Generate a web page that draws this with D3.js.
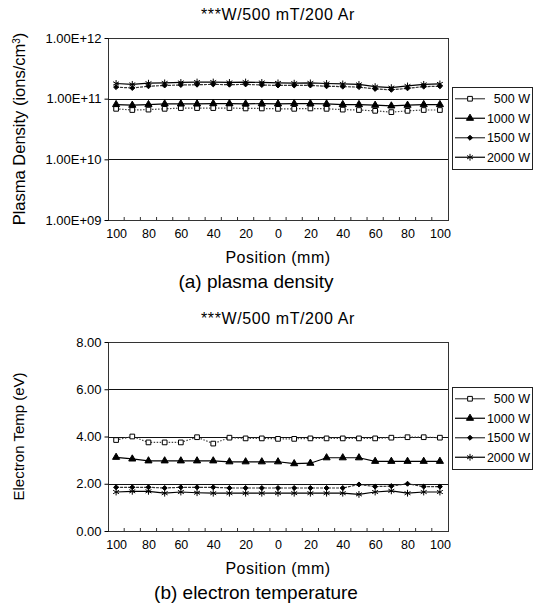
<!DOCTYPE html>
<html>
<head>
<meta charset="utf-8">
<script src="https://cdn.jsdelivr.net/npm/d3@7"></script>
<style>
  body { margin: 0; background: #fff; }
  text { font-family: "Liberation Sans", Arial, sans-serif; fill: #000; }
</style>
</head>
<body>
<svg id="chart" width="535" height="611"></svg>
<script>
// positions along the wafer (mm), 21 points, labels on every other one
const positions = [100, 90, 80, 70, 60, 50, 40, 30, 20, 10, 0, 10, 20, 30, 40, 50, 60, 70, 80, 90, 100];
const seriesNames = ["500 W", "1000 W", "1500 W", "2000 W"];
const chartTitle = "***W/500 mT/200 Ar";

// (a) plasma density, ions/cm3
const density500 = [6.8e10, 6.5e10, 6.6e10, 6.8e10, 7.0e10, 7.0e10, 7.0e10, 7.0e10, 6.9e10, 6.9e10, 6.8e10, 6.8e10, 6.9e10, 6.8e10, 6.6e10, 6.5e10, 6.3e10, 6.0e10, 6.3e10, 6.5e10, 6.5e10];
const density1000 = [8.0e10, 7.8e10, 8.0e10, 8.2e10, 8.2e10, 8.2e10, 8.3e10, 8.3e10, 8.2e10, 8.3e10, 8.2e10, 8.3e10, 8.3e10, 8.2e10, 8.0e10, 8.0e10, 7.8e10, 7.6e10, 7.8e10, 8.0e10, 8.0e10];
const density1500 = [1.55e11, 1.50e11, 1.60e11, 1.65e11, 1.68e11, 1.70e11, 1.72e11, 1.70e11, 1.72e11, 1.68e11, 1.65e11, 1.65e11, 1.65e11, 1.60e11, 1.58e11, 1.55e11, 1.45e11, 1.40e11, 1.48e11, 1.58e11, 1.60e11];
const density2000 = [1.78e11, 1.72e11, 1.80e11, 1.82e11, 1.85e11, 1.88e11, 1.88e11, 1.85e11, 1.88e11, 1.85e11, 1.82e11, 1.80e11, 1.82e11, 1.78e11, 1.75e11, 1.72e11, 1.58e11, 1.52e11, 1.62e11, 1.72e11, 1.75e11];
const densityTicks = [1e9, 1e10, 1e11, 1e12];

// (b) electron temperature, eV
const temp500 = [3.85, 4.00, 3.75, 3.75, 3.75, 3.97, 3.70, 3.95, 3.92, 3.92, 3.90, 3.90, 3.92, 3.92, 3.92, 3.92, 3.92, 3.95, 3.97, 3.97, 3.95];
const temp1000 = [3.12, 3.05, 2.97, 2.97, 2.97, 2.97, 2.97, 2.93, 2.93, 2.93, 2.93, 2.85, 2.87, 3.10, 3.10, 3.10, 2.95, 2.95, 2.95, 2.95, 2.95];
const temp1500 = [1.85, 1.85, 1.85, 1.82, 1.85, 1.85, 1.85, 1.82, 1.82, 1.82, 1.82, 1.82, 1.82, 1.82, 1.82, 1.97, 1.88, 1.90, 2.00, 1.88, 1.88];
const temp2000 = [1.65, 1.68, 1.68, 1.60, 1.65, 1.62, 1.60, 1.60, 1.60, 1.60, 1.60, 1.60, 1.60, 1.60, 1.60, 1.55, 1.65, 1.70, 1.60, 1.65, 1.65];
const tempTicks = [0, 2, 4, 6, 8];

const svg = d3.select("#chart");

// how each series is drawn
const styles = [
  { symbol: d3.symbolSquare, size: 22, fill: "#fff", line: "#444", dash: "1.5,1.5" },
  { symbol: d3.symbolTriangle, size: 22, fill: "#000", line: "#000", dash: null },
  { symbol: d3.symbolDiamond2, size: 16, fill: "#000", line: "#333", dash: "3,1" },
  { symbol: d3.symbolAsterisk, size: 32, fill: "none", line: "#000", dash: null }
];

function sciFormat(d) {
  const parts = d.toExponential(2).split("e");
  const exp = +parts[1];
  return parts[0] + "E" + (exp < 0 ? "-" : "+") + String(Math.abs(exp)).padStart(2, "0");
}

function drawPanel(opt) {
  const g = svg.append("g");
  const left = 108, right = 448;

  const x = d3.scalePoint()
    .domain(d3.range(positions.length))
    .range([left, right])
    .padding(0.5);

  const y = opt.log
    ? d3.scaleLog().domain([opt.ticks[0], opt.ticks[opt.ticks.length - 1]]).range([opt.bottom, opt.top])
    : d3.scaleLinear().domain([opt.ticks[0], opt.ticks[opt.ticks.length - 1]]).range([opt.bottom, opt.top]);

  // gridlines
  g.append("g").selectAll("line")
    .data(opt.ticks.slice(1, -1))
    .enter().append("line")
    .attr("x1", left).attr("x2", right)
    .attr("y1", d => Math.round(y(d)) + 0.5).attr("y2", d => Math.round(y(d)) + 0.5)
    .attr("stroke", "#111").attr("stroke-width", 1.2);

  // plot border
  g.append("rect")
    .attr("x", left + 0.5).attr("y", opt.top + 0.5)
    .attr("width", right - left).attr("height", opt.bottom - opt.top)
    .attr("fill", "none").attr("stroke", "#333").attr("stroke-width", 1);

  // y axis
  const ya = g.append("g")
    .attr("transform", `translate(${left + 0.5},0)`)
    .call(d3.axisLeft(y).tickValues(opt.ticks).tickSize(4).tickFormat(opt.format));
  ya.select(".domain").remove();
  ya.selectAll("text")
    .attr("x", -7)
    .style("font-size", "13px")
    .style("font-family", "'Liberation Sans', Arial, sans-serif");

  // x axis labels, every other category
  const xa = g.append("g")
    .attr("transform", `translate(0,${opt.bottom})`)
    .call(d3.axisBottom(x).tickSize(0).tickFormat(i => i % 2 === 0 ? positions[i] : ""));
  xa.select(".domain").remove();
  xa.selectAll("text")
    .attr("dy", "0.71em")
    .attr("y", 9)
    .style("font-size", "12.5px")
    .style("font-family", "'Liberation Sans', Arial, sans-serif");

  // small inward tick marks between categories
  g.append("g").selectAll("line")
    .data(d3.range(1, positions.length))
    .enter().append("line")
    .attr("x1", i => x(i) - x.step() / 2).attr("x2", i => x(i) - x.step() / 2)
    .attr("y1", opt.bottom).attr("y2", opt.bottom - 3)
    .attr("stroke", "#333");

  // series
  const line = d3.line()
    .x((d, i) => x(i))
    .y(d => y(d));

  opt.series.forEach((vals, s) => {
    const st = styles[s];
    g.append("path")
      .datum(vals)
      .attr("d", line)
      .attr("fill", "none")
      .attr("stroke", st.line)
      .attr("stroke-width", 1.2)
      .attr("stroke-dasharray", st.dash);
  });
  opt.series.forEach((vals, s) => {
    const st = styles[s];
    g.append("g").selectAll("path")
      .data(vals)
      .enter().append("path")
      .attr("transform", (d, i) => `translate(${x(i)},${y(d)})`)
      .attr("d", d3.symbol().type(st.symbol).size(st.size))
      .attr("fill", st.fill)
      .attr("stroke", "#000")
      .attr("stroke-width", 1);
  });

  // title
  g.append("text")
    .attr("x", 278).attr("y", opt.top - 18)
    .attr("text-anchor", "middle")
    .style("font-size", "16px")
    .style("letter-spacing", "0.6px")
    .text(chartTitle);

  // y title
  const yt = g.append("text")
    .attr("transform", `translate(19,${(opt.top + opt.bottom) / 2}) rotate(-90)`)
    .attr("text-anchor", "middle")
    .attr("dy", "0.35em")
    .style("font-size", opt.yTitleSize);
  yt.append("tspan").text(opt.yTitle);
  if (opt.yTitleSup) {
    yt.append("tspan").attr("baseline-shift", "super").style("font-size", "10px").text(opt.yTitleSup);
    yt.append("tspan").text(")");
  }

  // x title and caption
  g.append("text")
    .attr("x", 278).attr("y", opt.bottom + 43)
    .attr("text-anchor", "middle")
    .style("font-size", "16px")
    .style("letter-spacing", "0.5px")
    .text("Position (mm)");
  g.append("text")
    .attr("x", 256).attr("y", opt.bottom + 68)
    .attr("text-anchor", "middle")
    .style("font-size", "19px")
    .text(opt.caption);

  // legend, near the middle of the plot area
  const lh = 19.5;
  const lTop = Math.round(opt.legendTop);
  g.append("rect")
    .attr("x", 452.5).attr("y", lTop + 0.5)
    .attr("width", 80).attr("height", lh * 4 + 4)
    .attr("fill", "#fff").attr("stroke", "#222");
  const items = g.append("g").selectAll("g")
    .data(seriesNames)
    .enter().append("g")
    .attr("transform", (d, i) => `translate(0,${lTop + 2 + lh * (i + 0.5)})`);
  items.append("line")
    .attr("x1", 455).attr("x2", 485)
    .attr("stroke", (d, i) => styles[i].line)
    .attr("stroke-width", 1.2);
  items.append("path")
    .attr("transform", "translate(470,0)")
    .attr("d", (d, i) => d3.symbol().type(styles[i].symbol).size(styles[i].size)())
    .attr("fill", (d, i) => styles[i].fill)
    .attr("stroke", "#000")
    .attr("stroke-width", 1);
  items.append("text")
    .attr("x", 530).attr("dy", "0.35em")
    .attr("text-anchor", "end")
    .style("font-size", "12.5px")
    .text(d => d);
}

drawPanel({
  top: 38, bottom: 220, log: true,
  ticks: densityTicks,
  format: sciFormat,
  series: [density500, density1000, density1500, density2000],
  yTitle: "Plasma Density (ions/cm",
  yTitleSup: "3",
  yTitleSize: "16.5px",
  legendTop: 87,
  caption: "(a) plasma density"
});

drawPanel({
  top: 342, bottom: 531, log: false,
  ticks: tempTicks,
  format: d3.format(".2f"),
  series: [temp500, temp1000, temp1500, temp2000],
  yTitle: "Electron Temp (eV)",
  yTitleSize: "15px",
  legendTop: 387,
  caption: "(b) electron temperature"
});
</script>
</body>
</html>
